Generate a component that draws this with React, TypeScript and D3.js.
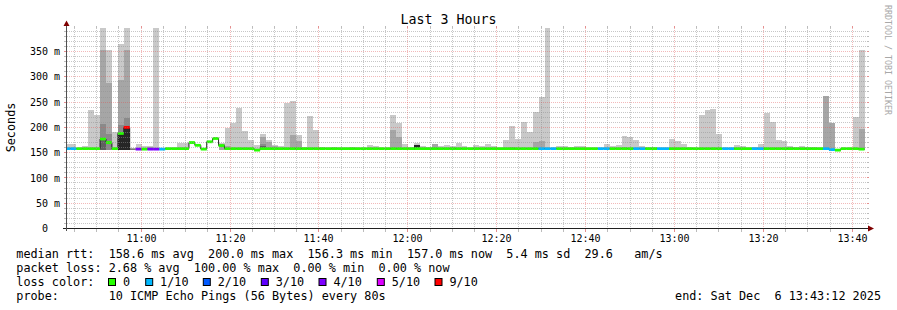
import React from 'react';
import * as d3 from 'd3';

// ---------- data ----------
const END = new Date(2025, 11, 6, 13, 43, 12);
const START = new Date(END.getTime() - 3 * 3600 * 1000);
const STEP_SEC = 80;
const FIRST_STEP_OFFSET_SEC = -27;

const yTickValues = [0, 50, 100, 150, 200, 250, 300, 350];
const yTickLabels = ['0', '50', '100', '150', '200', '250', '300', '350'];

const lossLabels = ['0', '1/10', '2/10', '3/10', '4/10', '5/10', '9/10'];
const lossColors = ['#26ff00', '#00b8ff', '#0059ff', '#5e00ff', '#7e00ff', '#dd00ff', '#ff0000'];

// median rtt per 80 s step (ms)
const median = [
  158, 158, 158, 158, 158, 158, 177, 170, 158, 188,
  200, 157, 157, 157, 157, 157, 157, 158, 158, 158,
  158, 170, 164.5, 157, 171.5, 178, 164, 158, 158, 158,
  158, 158, 155, 158, 158, 158, 158, 158, 158, 158,
  158, 158, 158, 158, 158, 158, 158, 158, 158, 158,
  158, 158, 158, 158, 158, 158, 158, 158, 158, 158,
  158, 158, 158, 158, 158, 158, 158, 158, 158, 158,
  158, 158, 158, 158, 158, 158, 158, 158, 158, 158,
  158, 158, 158, 158, 158, 158, 158, 158, 158, 158,
  158, 158, 158, 158, 158, 158, 158, 158, 158, 158,
  158, 158, 158, 158, 158, 158, 158, 158, 158, 158,
  158, 158, 158, 158, 158, 158, 158, 158, 158, 158,
  158, 158, 158, 158, 158, 158, 158, 158, 158, 156,
  155, 158, 158, 158, 157,
];

// lost pings out of 10 per step
const loss = [
  1, 1, 0, 0, 0, 0, 0, 0, 0, 0,
  9, 10, 4, 0, 4, 4, 1, 0, 0, 0,
  0, 0, 0, 0, 0, 0, 0, 0, 0, 0,
  0, 0, 0, 0, 0, 0, 0, 0, 0, 0,
  0, 0, 0, 0, 0, 0, 0, 0, 0, 0,
  0, 0, 0, 0, 0, 0, 0, 0, 0, 0,
  0, 0, 0, 0, 0, 0, 0, 0, 0, 0,
  0, 0, 0, 0, 0, 0, 0, 0, 0, 0,
  1, 1, 1, 0, 0, 0, 0, 0, 0, 0,
  1, 1, 0, 0, 0, 0, 1, 1, 0, 0,
  1, 1, 0, 0, 0, 0, 0, 0, 0, 0,
  0, 1, 1, 0, 0, 0, 1, 1, 0, 0,
  0, 0, 0, 0, 0, 0, 0, 0, 1, 1,
  0, 0, 0, 0, 0,
];

// smoke layers: top of each band (ms), outermost (lightest) first; 0 = none
const smoke1 = [
  167, 167, 160, 164, 234, 225, 396, 353, 190, 365,
  396, 0, 167, 164, 164, 396, 0, 0, 0, 170,
  169, 0, 0, 0, 0, 0, 170, 199, 209, 238,
  193, 175, 166, 187, 175, 166, 163, 248, 253, 185,
  161, 222, 195, 161, 0, 161, 0, 0, 161, 0,
  0, 165, 163, 0, 160, 224, 208, 167, 161, 169,
  163, 161, 168, 164, 165, 164, 170, 163, 0, 165,
  163, 167, 163, 0, 175, 202, 176, 210, 190, 231,
  261, 396, 0, 164, 164, 161, 163, 163, 0, 0,
  0, 167, 163, 165, 182, 180, 175, 164, 161, 161,
  0, 0, 176, 174, 167, 161, 160, 224, 234, 236,
  187, 0, 0, 166, 163, 0, 161, 167, 228, 210,
  175, 173, 163, 161, 163, 161, 161, 0, 263, 208,
  0, 0, 0, 220, 353,
];
const smoke2 = [
  0, 0, 0, 0, 0, 0, 352, 287, 0, 294,
  352, 0, 0, 0, 162, 0, 0, 0, 0, 0,
  0, 0, 0, 0, 0, 0, 167, 163, 0, 0,
  0, 0, 0, 180, 171, 164, 0, 0, 185, 174,
  0, 0, 0, 0, 0, 0, 0, 0, 0, 0,
  0, 0, 0, 0, 0, 195, 180, 0, 0, 165,
  0, 0, 168, 0, 0, 162, 0, 0, 0, 0,
  0, 0, 0, 0, 0, 162, 0, 0, 0, 172,
  174, 0, 0, 0, 0, 0, 0, 0, 0, 0,
  0, 0, 0, 0, 162, 0, 0, 0, 0, 0,
  0, 0, 0, 0, 0, 0, 0, 0, 0, 0,
  0, 0, 0, 0, 0, 0, 0, 0, 0, 0,
  0, 0, 162, 0, 0, 0, 0, 0, 263, 208,
  0, 0, 0, 0, 197,
];
const smoke3 = [
  0, 0, 0, 0, 0, 0, 207, 187, 0, 204,
  218, 0, 0, 0, 0, 0, 0, 0, 0, 0,
  0, 0, 0, 0, 0, 0, 0, 0, 0, 0,
  0, 0, 0, 168, 0, 0, 0, 0, 0, 0,
  0, 0, 0, 0, 0, 0, 0, 0, 0, 0,
  0, 0, 0, 0, 0, 0, 0, 0, 0, 0,
  0, 0, 0, 0, 0, 0, 0, 0, 0, 0,
  0, 0, 0, 0, 0, 0, 0, 0, 0, 0,
  0, 0, 0, 0, 0, 0, 0, 0, 0, 0,
  0, 0, 0, 0, 0, 0, 0, 0, 0, 0,
  0, 0, 0, 0, 0, 0, 0, 0, 0, 0,
  0, 0, 0, 0, 0, 0, 0, 0, 0, 0,
  0, 0, 0, 0, 0, 0, 0, 0, 0, 0,
  0, 0, 0, 0, 0,
];
const smoke4 = [
  0, 0, 0, 0, 0, 0, 175, 0, 0, 0,
  0, 0, 0, 0, 0, 0, 0, 0, 0, 0,
  0, 0, 0, 0, 0, 0, 0, 0, 0, 0,
  0, 0, 0, 164, 0, 0, 0, 0, 0, 0,
  0, 0, 0, 0, 0, 0, 0, 0, 0, 0,
  0, 0, 0, 0, 0, 0, 0, 0, 0, 0,
  0, 0, 0, 0, 0, 0, 0, 0, 0, 0,
  0, 0, 0, 0, 0, 0, 0, 0, 0, 0,
  0, 0, 0, 0, 0, 0, 0, 0, 0, 0,
  0, 0, 0, 0, 0, 0, 0, 0, 0, 0,
  0, 0, 0, 0, 0, 0, 0, 0, 0, 0,
  0, 0, 0, 0, 0, 0, 0, 0, 0, 0,
  0, 0, 0, 0, 0, 0, 0, 0, 0, 0,
  0, 0, 0, 0, 0,
];
const smoke5 = [
  0, 0, 0, 0, 0, 0, 0, 0, 0, 186,
  199, 0, 0, 0, 0, 0, 0, 0, 0, 0,
  0, 0, 0, 0, 0, 0, 0, 0, 0, 0,
  0, 0, 0, 0, 0, 0, 0, 0, 0, 0,
  0, 0, 0, 0, 0, 0, 0, 0, 0, 0,
  0, 0, 0, 0, 0, 0, 0, 0, 0, 165,
  0, 0, 0, 0, 0, 0, 0, 0, 0, 0,
  0, 0, 0, 0, 0, 0, 0, 0, 0, 0,
  0, 0, 0, 0, 0, 0, 0, 0, 0, 0,
  0, 0, 0, 0, 0, 0, 0, 0, 0, 0,
  0, 0, 0, 0, 0, 0, 0, 0, 0, 0,
  0, 0, 0, 0, 0, 0, 0, 0, 0, 0,
  0, 0, 0, 0, 0, 0, 0, 0, 0, 0,
  0, 0, 0, 0, 0,
];
const SMOKE_BASE = 156;

const statLines = [
  'median rtt:  158.6 ms avg  200.0 ms max  156.3 ms min  157.0 ms now  5.4 ms sd  29.6   am/s',
  'packet loss: 2.68 % avg  100.00 % max  0.00 % min  0.00 % now',
];
const probeText = 'probe:       10 ICMP Echo Pings (56 Bytes) every 80s';
const endText = 'end: Sat Dec  6 13:43:12 2025';
const titleText = 'Last 3 Hours';
const yAxisTitle = 'Seconds';
const watermark = 'RRDTOOL / TOBI OETIKER';

// ---------- styles ----------
const MONO = '"DejaVu Sans Mono", monospace';
const smokeColors = ['#c9c9c9', '#a6a6a6', '#8a8a8a', '#606060', '#262626'];
const MINOR = 'rgba(143,143,143,0.5)';
const MAJOR = 'rgba(222,80,80,0.4)';
const MINOR_SOLID = '#bcbcbc';
const MAJOR_SOLID = '#e49090';

function lossColorIndex(l: number): number {
  if (l <= 4) return l;
  if (l <= 8) return 5;
  if (l === 9) return 6;
  return -1;
}

export default function App() {
  const X0 = 66.5, X1 = 866.5, Y0 = 228.5, Y1 = 28.5;
  const xs = d3.scaleTime().domain([START, END]).range([X0, X1]);
  const ys = d3.scaleLinear().domain([0, 395.5]).range([Y0, Y1]);
  const n = median.length;
  const stepTime = (i: number) => new Date(START.getTime() + (FIRST_STEP_OFFSET_SEC + i * STEP_SEC) * 1000);
  const px = (v: number) => Math.floor(v) + 0.5;

  const majorTimes = d3.timeMinute.every(20)!.range(START, END);
  const minorTimes = d3.timeMinute.every(5)!.range(START, END).filter((t) => t.getMinutes() % 20 !== 0);
  const fmt = d3.timeFormat('%H:%M');

  const hMajor = d3.range(50, 396, 50);
  const hMinor = d3.range(10, 396, 10).filter((v) => v % 50 !== 0);

  const layers = [smoke1, smoke2, smoke3, smoke4, smoke5];

  const linePts: [Date, number][] = median.map((m, i) => [stepTime(i), m]);
  linePts.push([stepTime(n), median[n - 1]]);
  const medLine = d3.line<[Date, number]>()
    .x((d) => xs(d[0]))
    .y((d) => ys(d[1]))
    .curve(d3.curveStepAfter)(linePts) || '';

  const boxX = [108.5, 145.7, 203.3, 261.3, 319, 377.3, 435];

  return (
    <svg width={897} height={310} style={{ position: 'absolute', left: 0, top: 0, background: '#fff' }}
      fontFamily={MONO}>
      <rect x={0} y={0} width={897} height={310} fill="#ffffff" />
      <defs>
        <clipPath id="plot">
          <rect x={67} y={28} width={800} height={201} />
        </clipPath>
      </defs>

      <g clipPath="url(#plot)">
        {/* smoke */}
        <g shapeRendering="crispEdges">
          {layers.map((layer, li) =>
            layer.map((v, i) => {
              if (!v || v <= SMOKE_BASE) return null;
              const xa = xs(stepTime(i)), xb = xs(stepTime(i + 1));
              return (
                <rect key={`s${li}-${i}`} x={xa} width={xb - xa} y={ys(v)}
                  height={ys(SMOKE_BASE) - ys(v)} fill={smokeColors[li]} />
              );
            })
          )}
        </g>
        {/* median line */}
        <path d={medLine} fill="none" stroke="#202020" strokeWidth={1} />
        {median.map((m, i) => {
          const ci = lossColorIndex(loss[i]);
          if (ci < 0) return null;
          const xa = xs(stepTime(i)), xb = xs(stepTime(i + 1));
          return <rect key={`m${i}`} x={xa} width={xb - xa} y={ys(m) - 1.4} height={2.8} fill={lossColors[ci]} />;
        })}
      </g>

      {/* grid on top */}
      <g strokeDasharray="1,1" strokeWidth={1} fill="none">
        {hMinor.map((v) => (
          <line key={`hm${v}`} x1={67} x2={867} y1={px(ys(v))} y2={px(ys(v))} stroke={MINOR} />
        ))}
        {minorTimes.map((t) => (
          <line key={`vm${t.getTime()}`} x1={px(xs(t))} x2={px(xs(t))} y1={28} y2={228} stroke={MINOR} />
        ))}
        {hMajor.map((v) => (
          <line key={`hM${v}`} x1={67} x2={867} y1={px(ys(v))} y2={px(ys(v))} stroke={MAJOR} />
        ))}
        {majorTimes.map((t) => (
          <line key={`vM${t.getTime()}`} x1={px(xs(t))} x2={px(xs(t))} y1={28} y2={228} stroke={MAJOR} />
        ))}
      </g>

      {/* ticks */}
      <g strokeWidth={1} shapeRendering="crispEdges">
        {hMinor.map((v) => (
          <g key={`th${v}`} stroke={MINOR_SOLID}>
            <line x1={64} x2={67} y1={px(ys(v))} y2={px(ys(v))} />
            <line x1={867} x2={869} y1={px(ys(v))} y2={px(ys(v))} />
          </g>
        ))}
        {hMajor.map((v) => (
          <g key={`tH${v}`} stroke={MAJOR_SOLID}>
            <line x1={64} x2={67} y1={px(ys(v))} y2={px(ys(v))} />
            <line x1={867} x2={869} y1={px(ys(v))} y2={px(ys(v))} />
          </g>
        ))}
        {minorTimes.map((t) => (
          <g key={`tv${t.getTime()}`} stroke={MINOR_SOLID}>
            <line x1={px(xs(t))} x2={px(xs(t))} y1={229} y2={232} />
            <line x1={px(xs(t))} x2={px(xs(t))} y1={26} y2={28} />
          </g>
        ))}
        {majorTimes.map((t) => (
          <g key={`tV${t.getTime()}`} stroke={MAJOR_SOLID}>
            <line x1={px(xs(t))} x2={px(xs(t))} y1={229} y2={232} />
            <line x1={px(xs(t))} x2={px(xs(t))} y1={26} y2={28} />
          </g>
        ))}
      </g>

      {/* axes */}
      <line x1={63} x2={868} y1={228.5} y2={228.5} stroke="#202020" strokeWidth={1} />
      <line x1={66.5} x2={66.5} y1={231} y2={25} stroke="#505050" strokeWidth={1} />
      <path d="M868,225.5 L874,228.5 L868,231.5 Z" fill="#7f0000" />
      <path d="M63.5,26 L66.5,20.5 L69.5,26 Z" fill="#7f0000" />

      {/* y tick labels */}
      <g fontSize={10} fill="#000">
        {yTickValues.map((v, i) => (
          <g key={`yl${v}`}>
            <text x={48} y={ys(v) + 3.6} textAnchor="end">{yTickLabels[i]}</text>
            {v > 0 && <text x={54} y={ys(v) + 3.6}>m</text>}
          </g>
        ))}
      </g>
      {/* x tick labels */}
      <g fontSize={10} fill="#000" textAnchor="middle">
        {majorTimes.map((t) => (
          <text key={`xl${t.getTime()}`} x={px(xs(t))} y={241.5}>{fmt(t)}</text>
        ))}
      </g>

      {/* titles */}
      <text x={448.5} y={24} fontSize={13.3} textAnchor="middle" fill="#000">{titleText}</text>
      <text transform="translate(15,127.5) rotate(-90)" fontSize={11.8} textAnchor="middle" fill="#000">{yAxisTitle}</text>
      <text transform="translate(885,5) rotate(90)" fontSize={8.3} fill="#a8a8a8">{watermark}</text>

      {/* legend */}
      <g fontSize={11.8} fill="#000" style={{ whiteSpace: 'pre' }}>
        <text x={16.3} y={258.3} xmlSpace="preserve">{statLines[0]}</text>
        <text x={16.3} y={272.3} xmlSpace="preserve">{statLines[1]}</text>
        <text x={16.3} y={286.3} xmlSpace="preserve">{'loss color:'}</text>
        {lossLabels.map((lab, i) => (
          <g key={`lg${i}`}>
            <rect x={boxX[i]} y={278.5} width={7} height={7} fill={lossColors[i]} stroke="#000" strokeWidth={1} />
            <text x={boxX[i] + 14.4} y={286.3}>{lab}</text>
          </g>
        ))}
        <text x={16.3} y={300.3} xmlSpace="preserve">{probeText}</text>
        <text x={881} y={300.3} textAnchor="end" xmlSpace="preserve">{endText}</text>
      </g>
    </svg>
  );
}
